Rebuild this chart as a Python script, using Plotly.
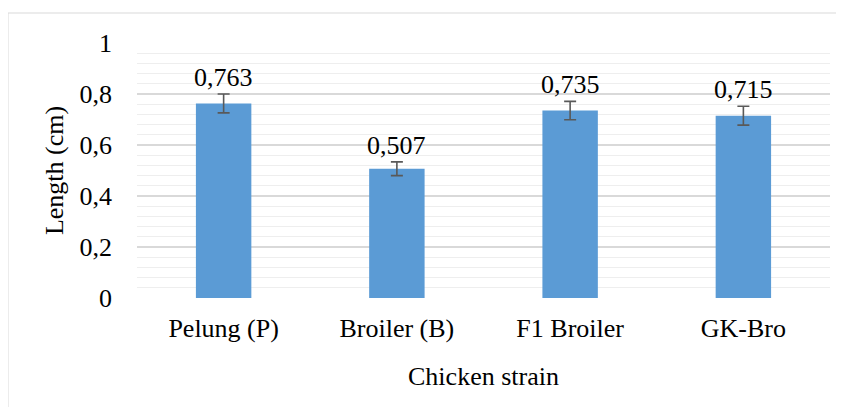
import plotly.graph_objects as go

categories = ["Pelung (P)", "Broiler (B)", "F1 Broiler", "GK-Bro"]
values = [0.763, 0.507, 0.735, 0.715]
errors = [0.037, 0.027, 0.036, 0.037]
y_ticks = [0, 0.2, 0.4, 0.6, 0.8, 1.0]

FONT = "Times New Roman, Liberation Serif, DejaVu Serif, serif"
FS = 26

fig = go.Figure()
fig.add_trace(go.Bar(
    x=categories, y=values,
    marker=dict(color="#5B9BD5", line=dict(width=0)),
    error_y=dict(type="data", array=errors, visible=True,
                 color="#595959", thickness=1.6, width=6),
    width=0.32,
))

for c, v, e in zip(categories, values, errors):
    fig.add_annotation(x=c, y=v + e, text=f"{v:.3f}".replace(".", ","),
                       showarrow=False, yanchor="bottom", yshift=0,
                       font=dict(family=FONT, size=FS, color="#000000"))

fig.add_shape(type="rect", xref="paper", yref="paper",
              x0=(8 - 137) / 693, x1=(843 - 137) / 693,
              y0=-1, y1=(298 - 13) / 255,
              line=dict(color="#d9d9d9", width=1), fillcolor="rgba(0,0,0,0)",
              layer="below")

fig.update_layout(
    width=844, height=407,
    margin=dict(l=129, r=22, t=35, b=117, autoexpand=False),
    paper_bgcolor="white", plot_bgcolor="white",
    separators=",.",
    showlegend=False,
    font=dict(family=FONT, size=FS, color="#000000"),
    xaxis=dict(title=dict(text="Chicken strain", standoff=24,
                          font=dict(family=FONT, size=FS)),
               automargin=False, ticklabelstandoff=12,
               showline=False, ticks="", tickfont=dict(family=FONT, size=FS)),
    yaxis=dict(title=dict(text="Length (cm)", standoff=8,
                          font=dict(family=FONT, size=FS)),
               automargin=False,
               range=[0, 1], tickvals=y_ticks, ticks="",
               showgrid=True, gridcolor="#d9d9d9", gridwidth=1.5,
               zeroline=False, showline=False, ticklabelstandoff=24,
               tickfont=dict(family=FONT, size=FS),
               minor=dict(dtick=0.04, showgrid=True, gridcolor="#eeeeee", gridwidth=1)),
)

fig.write_html("out.html")
